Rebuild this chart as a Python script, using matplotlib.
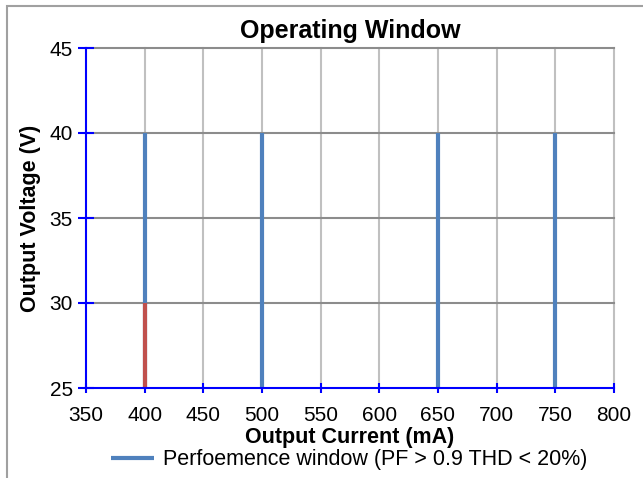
import matplotlib.pyplot as plt
import matplotlib.patches as mpatches

plt.rcParams['font.family'] = ['Liberation Sans', 'DejaVu Sans']

# window data
currents = [400, 500, 650, 750]
v_low = [25, 25, 25, 25]
v_high = [40, 40, 40, 40]
red_current = [400]
red_low = [25]
red_high = [30]

x_ticks = [350, 400, 450, 500, 550, 600, 650, 700, 750, 800]
y_ticks = [25, 30, 35, 40, 45]

blue = '#4f81bd'
red = '#c0504d'
axis_blue = '#0000ff'

fig = plt.figure(figsize=(6.43, 4.78), dpi=100)
ax = fig.add_axes([86/643, 1-388/478, (614-86)/643, (388-48)/478])

# outer frame
fig.patches.append(mpatches.Rectangle((7/643, -0.05), 1.1, 1-6/478+0.05,
                                      transform=fig.transFigure, fill=False,
                                      edgecolor='#a0a0a0', linewidth=1.5))

ax.vlines(currents, v_low, v_high, color=blue, linewidth=3, zorder=3,
          label='Perfoemence window (PF > 0.9 THD < 20%)')
ax.vlines(red_current, red_low, red_high, color=red, linewidth=3, zorder=4)

ax.set_xlim(350, 800)
ax.set_ylim(25, 45)
ax.set_xticks(x_ticks)
ax.set_yticks(y_ticks)
for x in x_ticks[1:]:
    ax.axvline(x, color='#c0c0c0', linewidth=1.5, zorder=1, clip_on=False)
for y in y_ticks[1:]:
    ax.axhline(y, color='#8c8c8c', linewidth=1.5, zorder=1, clip_on=False)

ax.spines['left'].set_color(axis_blue)
ax.spines['bottom'].set_color(axis_blue)
ax.spines['left'].set_linewidth(1.5)
ax.spines['bottom'].set_linewidth(1.5)
ax.spines['left'].set_zorder(5)
ax.spines['bottom'].set_zorder(5)
ax.spines['top'].set_visible(False)
ax.spines['right'].set_visible(False)
ax.tick_params(axis='both', direction='inout', width=1.5,
               color=axis_blue, labelsize=15)
ax.tick_params(axis='y', length=11, pad=4)
ax.tick_params(axis='x', length=7.5, pad=9)

ax.set_title('Operating Window', fontsize=18, fontweight='bold', pad=7)
ax.set_xlabel('Output Current (mA)', fontsize=15.5, fontweight='bold', labelpad=2)
ax.set_ylabel('Output Voltage (V)', fontsize=15.5, fontweight='bold', labelpad=6)

fig.legend(loc='center', bbox_to_anchor=(349/643, 1-460/478), frameon=False,
           fontsize=15.5, handlelength=2.0, handletextpad=0.4)

fig.savefig('out.png', dpi=100)
